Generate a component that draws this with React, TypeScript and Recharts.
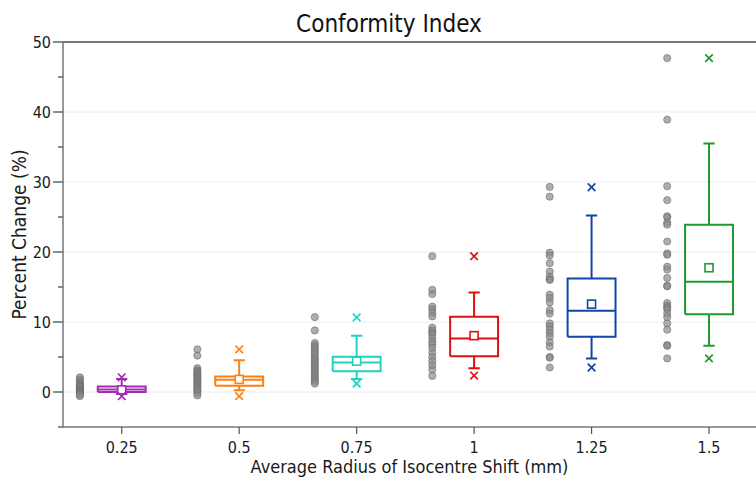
import {
  CartesianGrid,
  ComposedChart,
  Line,
  ReferenceLine,
  Scatter,
  XAxis,
  YAxis,
} from 'recharts';

const FONT = "'DejaVu Sans Condensed', 'Liberation Sans', sans-serif";

// shift radius (mm) -> one group each
const categories = [0.25, 0.5, 0.75, 1, 1.25, 1.5];
const COLORS = ['#a32cb4', '#ff8010', '#1fd2c2', '#dd1010', '#1544a6', '#1f9a2e'];

// box statistics
const q1 = [0.0, 0.9, 2.95, 5.1, 7.9, 11.1];
const median = [0.35, 1.75, 4.2, 7.65, 11.6, 15.75];
const q3 = [0.8, 2.2, 5.05, 10.75, 16.2, 23.9];
const whiskerLow = [-0.3, 0.25, 1.85, 3.4, 4.8, 6.6];
const whiskerHigh = [1.85, 4.55, 8.05, 14.2, 25.2, 35.5];
const means = [0.3, 1.8, 4.4, 8.05, 12.55, 17.75];
const minVals = [-0.6, -0.6, 1.2, 2.35, 3.5, 4.8];
const maxVals = [2.1, 6.1, 10.65, 19.4, 29.25, 47.7];

// individual cases
const pts025 = [2.1, 1.8, 1.5, 1.3, 1.1, 0.9, 0.8, 0.7, 0.5, 0.4, 0.3, 0.2, 0.1, 0.0, -0.1, -0.2, -0.4, -0.6];
const pts050 = [6.1, 5.2, 3.4, 3.1, 2.9, 2.7, 2.5, 2.3, 2.1, 1.9, 1.7, 1.5, 1.3, 1.1, 0.9, 0.7, 0.5, 0.3, 0.1, -0.2, -0.5];
const pts075 = [10.7, 8.8, 7.0, 6.7, 6.4, 6.0, 5.7, 5.4, 5.0, 4.7, 4.4, 4.1, 3.8, 3.5, 3.2, 2.9, 2.6, 2.3, 2.0, 1.7, 1.5, 1.2];
const pts100 = [19.4, 14.6, 14.0, 12.2, 11.8, 11.3, 10.8, 9.2, 8.8, 8.5, 8.2, 7.7, 7.2, 6.8, 6.3, 5.6, 5.0, 4.4, 3.8, 3.2, 2.3];
const pts125 = [29.3, 27.9, 19.9, 19.5, 18.4, 17.2, 16.5, 16.1, 16.0, 13.9, 13.4, 12.8, 11.7, 11.2, 9.8, 9.4, 8.9, 8.4, 7.9, 7.1, 6.5, 5.0, 4.9, 3.5];
const pts150 = [47.7, 38.9, 29.4, 27.4, 25.1, 25.0, 24.2, 23.9, 21.5, 19.8, 19.6, 17.9, 17.5, 16.3, 15.2, 15.1, 12.7, 12.3, 12.1, 11.8, 11.2, 10.7, 9.8, 8.9, 6.7, 6.6, 4.8];
const rawPoints = [pts025, pts050, pts075, pts100, pts125, pts150];

const yTicks = [-5, 0, 5, 10, 15, 20, 25, 30, 35, 40, 45, 50];
const xTicks = [0.25, 0.5, 0.75, 1, 1.25, 1.5];

const HALF_BOX = 0.051;
const HALF_CAP = 0.012;
const DOT_SHIFT = 0.089;

const boxLine = (i: number) => {
  const x = categories[i];
  const gap = { x, y: null };
  return [
    { x: x - HALF_BOX, y: q1[i] },
    { x: x + HALF_BOX, y: q1[i] },
    { x: x + HALF_BOX, y: q3[i] },
    { x: x - HALF_BOX, y: q3[i] },
    { x: x - HALF_BOX, y: q1[i] },
    gap,
    { x: x - HALF_BOX, y: median[i] },
    { x: x + HALF_BOX, y: median[i] },
    gap,
    { x, y: q3[i] },
    { x, y: whiskerHigh[i] },
    gap,
    { x: x - HALF_CAP, y: whiskerHigh[i] },
    { x: x + HALF_CAP, y: whiskerHigh[i] },
    gap,
    { x, y: q1[i] },
    { x, y: whiskerLow[i] },
    gap,
    { x: x - HALF_CAP, y: whiskerLow[i] },
    { x: x + HALF_CAP, y: whiskerLow[i] },
  ];
};

const YTick = ({ x, y, payload }: any) => {
  const v = payload.value;
  const major = v % 10 === 0;
  return (
    <g>
      <line x1={x + (major ? 1 : 6)} x2={x + 11} y1={y} y2={y} stroke="#666" strokeWidth={1.5} />
      {major && (
        <text x={x - 1} y={y} dy={6} textAnchor="end" fontSize={16} fontFamily={FONT} fill="#1a1a1a">
          {v}
        </text>
      )}
    </g>
  );
};

const square = (color: string) => (props: any) => (
  <rect x={props.cx - 4} y={props.cy - 4} width={8} height={8} fill="#fff" stroke={color} strokeWidth={1.6} />
);

const cross = (color: string) => (props: any) => (
  <path
    d={`M${props.cx - 3.8},${props.cy - 3.8}L${props.cx + 3.8},${props.cy + 3.8}M${props.cx - 3.8},${props.cy + 3.8}L${props.cx + 3.8},${props.cy - 3.8}`}
    stroke={color}
    strokeWidth={1.7}
    fill="none"
  />
);

const dot = (props: any) => (
  <circle cx={props.cx} cy={props.cy} r={3.6} fill="#8c8c8c" fillOpacity={0.7} stroke="#666" strokeOpacity={0.7} strokeWidth={0.8} />
);

export default function App() {
  return (
    <div style={{ position: 'relative', width: 756, height: 477, background: '#fff' }}>
      <style>{'body{margin:0}'}</style>
      <div
        style={{
          position: 'absolute',
          top: 12,
          left: 0,
          width: 778,
          textAlign: 'center',
          fontFamily: FONT,
          fontSize: 24,
          lineHeight: '24px',
          color: '#111',
        }}
      >
        Conformity Index
      </div>
      <ComposedChart width={756} height={477} margin={{ top: 42, right: 0, bottom: 0, left: 0 }}>
        <CartesianGrid vertical={false} horizontalValues={[0, 10, 20, 30, 40]} stroke="#ececec" />
        <XAxis
          type="number"
          dataKey="x"
          domain={[0.125, 1.6]}
          ticks={xTicks}
          allowDataOverflow
          height={50}
          interval={0}
          stroke="#666"
          axisLine={{ stroke: '#777', strokeWidth: 1.5 }}
          tickLine={{ stroke: '#555', strokeWidth: 1.2 }}
          tickSize={7}
          tickMargin={8}
          tick={{ fontSize: 16, fontFamily: FONT, fill: '#1a1a1a' }}
          label={{
            value: 'Average Radius of Isocentre Shift (mm)',
            position: 'insideBottom',
            offset: 4,
            style: { fontSize: 18, fontFamily: FONT, fill: '#1a1a1a' },
          }}
        />
        <YAxis
          type="number"
          dataKey="y"
          domain={[-5, 50]}
          ticks={yTicks}
          allowDataOverflow
          interval={0}
          width={63}
          tickSize={10}
          tickMargin={1}
          tickLine={false}
          axisLine={{ stroke: '#777', strokeWidth: 1.5 }}
          tick={<YTick />}
          label={{
            value: 'Percent Change (%)',
            angle: -90,
            position: 'center',
            dx: -12,
            style: { fontSize: 19, fontFamily: FONT, fill: '#1a1a1a' },
          }}
        />
        <ReferenceLine y={50} stroke="#777" strokeWidth={2} ifOverflow="visible" />
        {categories.map((c, i) => (
          <Scatter
            key={`raw-${c}`}
            data={rawPoints[i].map((v) => ({ x: c - DOT_SHIFT, y: v }))}
            shape={dot}
            isAnimationActive={false}
          />
        ))}
        {categories.map((c, i) => (
          <Line
            key={`box-${c}`}
            data={boxLine(i)}
            dataKey="y"
            stroke={COLORS[i]}
            strokeWidth={2}
            dot={false}
            activeDot={false}
            connectNulls={false}
            type="linear"
            isAnimationActive={false}
          />
        ))}
        {categories.map((c, i) => (
          <Scatter
            key={`mean-${c}`}
            data={[{ x: c, y: means[i] }]}
            shape={square(COLORS[i])}
            isAnimationActive={false}
          />
        ))}
        {categories.map((c, i) => (
          <Scatter
            key={`ext-${c}`}
            data={[
              { x: c, y: minVals[i] },
              { x: c, y: maxVals[i] },
            ]}
            shape={cross(COLORS[i])}
            isAnimationActive={false}
          />
        ))}
      </ComposedChart>
    </div>
  );
}
